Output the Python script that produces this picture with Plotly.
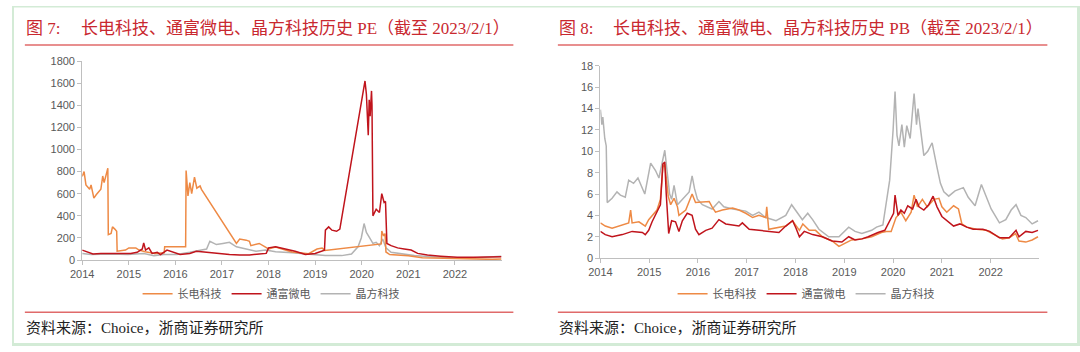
import plotly.graph_objects as go

W, H = 1080, 352

# ---------------- data (x = decimal year) ----------------
year_ticks = [2014, 2015, 2016, 2017, 2018, 2019, 2020, 2021, 2022]
year_labels = ["2014", "2015", "2016", "2017", "2018", "2019", "2020", "2021", "2022"]
pe_ticks = [0, 200, 400, 600, 800, 1000, 1200, 1400, 1600, 1800]
pb_ticks = [0, 2, 4, 6, 8, 10, 12, 14, 16, 18]
names = ["长电科技", "通富微电", "晶方科技"]

# PE - 长电科技
cd_pe_x = [2014.00, 2014.04, 2014.08, 2014.16, 2014.19, 2014.25, 2014.30, 2014.35, 2014.40, 2014.44,
           2014.47, 2014.55, 2014.56, 2014.62, 2014.65, 2014.70, 2014.74, 2014.75, 2014.93, 2015.00,
           2015.15, 2015.22, 2015.35, 2015.56, 2015.76, 2015.77, 2016.22, 2016.23, 2016.27, 2016.31,
           2016.35, 2016.41, 2016.46, 2016.53, 2016.56, 2017.31, 2017.38, 2017.52, 2017.59, 2017.62,
           2017.80, 2018.00, 2018.15, 2018.50, 2018.86, 2019.04, 2019.15, 2019.21, 2020.42, 2020.43,
           2020.47, 2020.50, 2020.52, 2020.60, 2021.00, 2021.30, 2021.70, 2022.10, 2022.80, 2023.00]
cd_pe_y = [757, 800, 680, 640, 680, 560, 590, 620, 640, 760,
           700, 830, 230, 240, 300, 280, 260, 80, 90, 110,
           110, 90, 75, 60, 65, 120, 120, 810, 580, 700,
           600, 750, 650, 670, 640, 150, 190, 180, 170, 130,
           150, 100, 117, 73, 58, 100, 108, 87, 146, 262,
           218, 240, 73, 50, 38, 20, 15, 9, 6, 9]

# PE - 通富微电
tf_pe_x = [2014.00, 2014.12, 2014.23, 2014.40, 2014.62, 2014.83, 2015.04, 2015.18, 2015.29, 2015.32,
           2015.36, 2015.43, 2015.50, 2015.61, 2015.68, 2015.82, 2015.96, 2016.10, 2016.31, 2016.45,
           2016.67, 2016.88, 2017.16, 2017.38, 2017.59, 2017.80, 2017.95, 2018.00, 2018.15, 2018.36,
           2018.57, 2018.79, 2019.00, 2019.20, 2019.22, 2019.29, 2019.36, 2019.46, 2019.53, 2020.07,
           2020.10, 2020.14, 2020.16, 2020.18, 2020.21, 2020.22, 2020.24, 2020.31, 2020.38, 2020.43,
           2020.48, 2020.51, 2020.54, 2020.63, 2020.77, 2020.91, 2021.06, 2021.20, 2021.41, 2021.69,
           2022.05, 2022.40, 2022.75, 2023.00]
tf_pe_y = [90, 75, 55, 60, 60, 55, 60, 70, 100, 155,
           90, 110, 60, 70, 50, 90, 70, 50, 60, 80,
           70, 60, 50, 45, 45, 55, 60, 110, 120, 100,
           80, 50, 60, 90, 270, 300, 270, 260, 280, 1620,
           1500, 1130, 1450, 1300, 1530, 1400, 400, 460, 430, 600,
           520, 530, 150, 130, 110, 100, 90, 60, 45, 35,
           25, 25, 28, 30]

# PE - 晶方科技
jf_pe_x = [2014.00, 2014.19, 2014.62, 2014.98, 2015.32, 2015.54, 2015.75, 2016.03, 2016.31, 2016.53,
           2016.67, 2016.74, 2016.88, 2017.02, 2017.16, 2017.31, 2017.52, 2017.73, 2017.94, 2018.15,
           2018.51, 2018.86, 2019.22, 2019.57, 2019.78, 2019.92, 2019.99, 2020.05, 2020.10, 2020.17,
           2020.24, 2020.31, 2020.38, 2020.45, 2020.52, 2020.63, 2020.84, 2021.13, 2021.48, 2021.90,
           2022.40, 2022.75, 2023.00]
jf_pe_y = [60, 50, 55, 50, 60, 40, 50, 50, 70, 90,
           100, 170, 140, 150, 160, 120, 100, 80, 90, 75,
           65, 55, 40, 40, 55, 120, 200, 330, 250, 200,
           150, 160, 130, 190, 110, 70, 55, 40, 30, 20,
           18, 25, 35]

# PB - 长电科技
cd_pb_x = [2014.00, 2014.10, 2014.24, 2014.38, 2014.58, 2014.62, 2014.65, 2014.79, 2014.92, 2014.99,
           2015.06, 2015.16, 2015.23, 2015.28, 2015.32, 2015.35, 2015.39, 2015.44, 2015.51, 2015.58,
           2015.61, 2015.75, 2015.88, 2015.95, 2016.23, 2016.29, 2016.36, 2016.50, 2016.71, 2016.84,
           2016.98, 2017.12, 2017.25, 2017.39, 2017.41, 2017.45, 2017.60, 2017.80, 2017.94, 2018.01,
           2018.08, 2018.15, 2018.28, 2018.41, 2018.55, 2018.75, 2018.89, 2019.02, 2019.15, 2019.36,
           2019.56, 2019.76, 2019.86, 2019.96, 2020.06, 2020.16, 2020.26, 2020.37, 2020.43, 2020.50,
           2020.60, 2020.70, 2020.84, 2020.94, 2021.00, 2021.10, 2021.24, 2021.34, 2021.41, 2021.51,
           2021.71, 2021.91, 2022.11, 2022.24, 2022.38, 2022.51, 2022.58, 2022.72, 2022.85, 2022.97]
cd_pb_y = [3.3, 3.0, 2.8, 3.0, 3.3, 4.5, 3.3, 3.4, 3.0, 3.6,
           4.0, 4.5, 5.5, 8.5, 8.8, 7.5, 5.8, 5.0, 5.6, 4.8,
           4.0, 4.5, 6.0, 5.2, 5.3, 4.8, 4.3, 4.5, 4.7, 4.5,
           4.2, 3.8, 4.0, 3.8, 4.8, 2.7, 2.8, 3.0, 3.5, 3.0,
           2.6, 3.2, 2.6, 2.6, 2.0, 1.6, 1.1, 1.4, 1.7, 1.8,
           2.0, 2.4, 2.5, 2.5, 3.8, 4.3, 3.5, 4.3, 5.9, 4.8,
           5.5, 4.8, 5.5, 5.6, 4.8, 4.3, 4.9, 4.6, 3.2, 2.9,
           2.7, 2.6, 2.1, 1.8, 1.9, 2.3, 1.6, 1.5, 1.7, 2.0]

# PB - 通富微电
tf_pb_x = [2014.00, 2014.10, 2014.24, 2014.45, 2014.65, 2014.86, 2014.92, 2014.99, 2015.06, 2015.13,
           2015.23, 2015.28, 2015.32, 2015.35, 2015.37, 2015.40, 2015.46, 2015.54, 2015.61, 2015.68,
           2015.78, 2015.88, 2015.95, 2016.02, 2016.16, 2016.29, 2016.43, 2016.57, 2016.84, 2016.91,
           2017.05, 2017.25, 2017.46, 2017.66, 2017.80, 2017.94, 2018.01, 2018.08, 2018.18, 2018.35,
           2018.55, 2018.75, 2018.95, 2019.09, 2019.22, 2019.36, 2019.49, 2019.69, 2019.83, 2019.93,
           2020.01, 2020.04, 2020.10, 2020.16, 2020.23, 2020.30, 2020.40, 2020.47, 2020.53, 2020.63,
           2020.73, 2020.82, 2020.90, 2021.00, 2021.10, 2021.24, 2021.37, 2021.51, 2021.64, 2021.84,
           2021.98, 2022.18, 2022.38, 2022.52, 2022.58, 2022.72, 2022.85, 2022.97]
tf_pb_y = [2.5, 2.2, 2.0, 2.2, 2.5, 2.4, 2.2, 2.6, 3.4, 4.0,
           5.0, 8.8, 9.0, 6.0, 4.0, 2.3, 3.5, 3.4, 2.5, 3.5,
           4.2, 4.0, 2.7, 2.2, 2.6, 2.8, 3.6, 3.2, 3.0, 3.3,
           2.7, 2.6, 2.5, 2.4, 3.0, 3.5, 2.8, 2.0, 2.5, 2.2,
           2.0, 1.6, 1.5, 2.0, 1.7, 1.8, 2.0, 2.4, 2.6, 3.5,
           4.2, 5.9, 4.0, 4.5, 4.2, 4.9, 4.6, 5.5, 4.8, 4.5,
           5.0, 5.8, 4.8, 3.9, 3.5, 3.0, 3.2, 2.9, 2.7, 2.7,
           2.5, 1.9, 1.9, 2.6, 2.0, 2.5, 2.4, 2.6]

# PB - 晶方科技
jf_pb_x = [2014.00, 2014.03, 2014.05, 2014.09, 2014.12, 2014.14, 2014.24, 2014.34, 2014.41, 2014.51,
           2014.58, 2014.68, 2014.77, 2014.91, 2015.03, 2015.13, 2015.20, 2015.32, 2015.37, 2015.42,
           2015.46, 2015.51, 2015.58, 2015.68, 2015.82, 2015.88, 2015.93, 2015.99, 2016.09, 2016.29,
           2016.43, 2016.53, 2016.71, 2016.98, 2017.12, 2017.25, 2017.39, 2017.60, 2017.80, 2017.92,
           2018.04, 2018.14, 2018.25, 2018.35, 2018.48, 2018.68, 2018.89, 2019.09, 2019.22, 2019.36,
           2019.56, 2019.66, 2019.79, 2019.86, 2019.93, 2020.00, 2020.04, 2020.08, 2020.12, 2020.18,
           2020.23, 2020.28, 2020.35, 2020.43, 2020.48, 2020.51, 2020.58, 2020.63, 2020.71, 2020.80,
           2020.90, 2020.97, 2021.04, 2021.14, 2021.27, 2021.44, 2021.54, 2021.68, 2021.81, 2021.91,
           2022.01, 2022.18, 2022.31, 2022.42, 2022.52, 2022.62, 2022.72, 2022.85, 2022.97]
jf_pb_y = [13.9, 12.5, 13.2, 11.2, 10.5, 5.2, 5.6, 6.2, 5.9, 5.7,
           7.3, 7.0, 7.5, 6.0, 8.9, 8.2, 7.5, 10.1, 8.0, 6.0,
           5.5, 6.8, 5.0, 5.5, 6.2, 7.7, 6.5, 5.5, 5.0, 4.6,
           5.3, 4.8, 4.6, 4.4, 4.0, 4.3, 3.8, 3.5, 4.0, 5.0,
           4.2, 3.6, 4.2, 3.6, 2.7, 2.0, 2.0, 2.9, 2.5, 2.3,
           2.6, 2.9, 3.1, 5.0, 7.3, 12.0, 15.6, 11.5, 10.5, 12.5,
           10.4, 12.4, 11.2, 15.4, 12.5, 14.0, 11.5, 9.6, 10.0, 10.8,
           8.5, 7.0, 6.2, 5.8, 6.3, 6.6, 5.7, 4.9, 6.9, 5.7,
           4.6, 3.3, 3.6, 4.5, 5.0, 4.0, 3.8, 3.2, 3.5]

# ---------------- styling ----------------
ORANGE = "#EE8A45"
RED = "#C0141C"
GRAY = "#B3B3B3"
TITLE_RED = "#C9282F"
LINE_RED = "#E06A6A"
AXIS = "#BFBFBF"
TICK_FONT = dict(family="Liberation Sans, Noto Sans CJK SC", size=11, color="#595959")
SERIF = "Liberation Serif, Noto Sans CJK SC"

fig = go.Figure()

def add(xv, yv, color, name, rank, xa, ya, leg):
    fig.add_trace(go.Scatter(x=xv, y=yv, mode="lines", name=name,
                             line=dict(color=color, width=1.5),
                             xaxis=xa, yaxis=ya, legend=leg, legendrank=rank,
                             hoverinfo="skip"))

add(jf_pe_x, jf_pe_y, GRAY, names[2], 3, "x", "y", "legend")
add(cd_pe_x, cd_pe_y, ORANGE, names[0], 1, "x", "y", "legend")
add(tf_pe_x, tf_pe_y, RED, names[1], 2, "x", "y", "legend")
add(jf_pb_x, jf_pb_y, GRAY, names[2], 3, "x2", "y2", "legend2")
add(cd_pb_x, cd_pb_y, ORANGE, names[0], 1, "x2", "y2", "legend2")
add(tf_pb_x, tf_pb_y, RED, names[1], 2, "x2", "y2", "legend2")

def xax(domain, anchor):
    return dict(domain=domain, range=[2014, 2023], tickvals=year_ticks, ticktext=year_labels,
                showline=True, linecolor=AXIS, linewidth=1, ticks="outside", ticklen=4,
                tickcolor=AXIS, showgrid=False, zeroline=False, anchor=anchor,
                tickfont=TICK_FONT, fixedrange=True)

def yax(domain, rng, tv, anchor):
    return dict(domain=domain, range=rng, tickvals=tv, ticktext=[str(v) for v in tv],
                showline=True, linecolor=AXIS, linewidth=1, ticks="outside", ticklen=4,
                tickcolor=AXIS, showgrid=False, zeroline=False, anchor=anchor,
                tickfont=TICK_FONT, fixedrange=True)

leg_common = dict(orientation="h", yanchor="middle", xanchor="center",
                  font=dict(family="Noto Sans CJK SC", size=11, color="#595959"),
                  bgcolor="rgba(0,0,0,0)", itemwidth=30, tracegroupgap=0)

fig.update_layout(
    width=W, height=H, margin=dict(l=0, r=0, t=0, b=0),
    paper_bgcolor="white", plot_bgcolor="white",
    xaxis=xax([71 / W, 495 / W], "y"),
    yaxis=yax([1 - 263 / H, 1 - 57 / H], [0, 1800], pe_ticks, "x"),
    xaxis2=xax([595 / W, 1039 / W], "y2"),
    yaxis2=yax([1 - 261 / H, 1 - 62 / H], [0, 18], pb_ticks, "x2"),
    legend=dict(x=262 / W, y=1 - 298 / H, **leg_common),
    legend2=dict(x=803 / W, y=1 - 298 / H, **leg_common),
    showlegend=True,
)

shapes = []
def hline(x0, x1, y, color, w):
    shapes.append(dict(type="line", xref="paper", yref="paper", x0=x0 / W, x1=x1 / W,
                       y0=1 - y / H, y1=1 - y / H, line=dict(color=color, width=w)))

hline(13, 507, 40.5, LINE_RED, 1.5)
hline(552, 1047, 40.5, LINE_RED, 1.5)
hline(13, 507, 317, LINE_RED, 1.5)
hline(552, 1047, 317, LINE_RED, 1.5)

BORDER = "#D3EBD6"
def rect(x0, y0, x1, y1):
    shapes.append(dict(type="rect", xref="paper", yref="paper", x0=x0 / W, x1=x1 / W,
                       y0=1 - y1 / H, y1=1 - y0 / H, fillcolor=BORDER, line=dict(width=0)))
rect(0, 0, 1080, 1.5)
rect(0, 0, 2, 352)
rect(1077, 0, 1080, 352)
rect(0, 349, 1080, 352)
fig.update_layout(shapes=shapes)

ann = []
def text(x, y, s, size, color, family):
    ann.append(dict(x=x / W, y=1 - y / H, xref="paper", yref="paper", text=s, showarrow=False,
                    xanchor="left", yanchor="middle", font=dict(size=size, color=color, family=family)))

text(12, 23, "图 7:", 17, TITLE_RED, SERIF)
text(68, 23, "长电科技、通富微电、晶方科技历史 PE（截至 2023/2/1）", 17, TITLE_RED, SERIF)
text(551, 23, "图 8:", 17, TITLE_RED, SERIF)
text(606, 23, "长电科技、通富微电、晶方科技历史 PB（截至 2023/2/1）", 17, TITLE_RED, SERIF)
text(12, 333, "资料来源：Choice，浙商证券研究所", 15, "#222222", SERIF)
text(551, 333, "资料来源：Choice，浙商证券研究所", 15, "#222222", SERIF)
fig.update_layout(annotations=ann)

fig.write_html("out.html", post_script="document.body.style.margin='0px';document.body.style.overflow='hidden';")
